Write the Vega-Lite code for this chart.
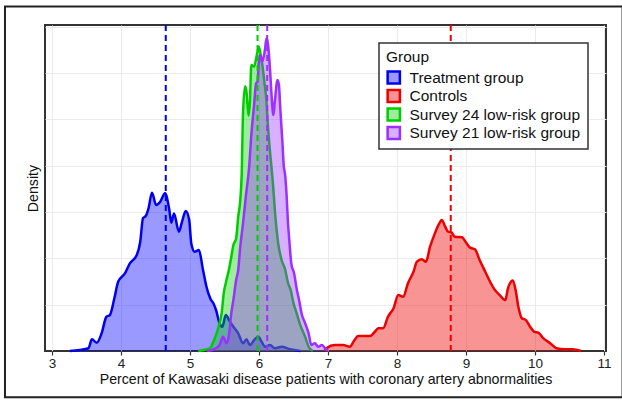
{
  "$schema": "https://vega.github.io/schema/vega-lite/v6.json",
  "width": 561,
  "height": 326,
  "autosize": {"type": "none"},
  "padding": {"left": 45, "top": 25, "right": 16, "bottom": 52},
  "background": "white",
  "config": {
    "font": "Liberation Sans",
    "view": {"stroke": "#333", "strokeWidth": 2},
    "axis": {"gridColor": "#ebebeb", "gridWidth": 1, "domain": false, "labelColor": "#222", "titleColor": "#111", "titleFontWeight": "normal", "tickColor": "#333"},
    "legend": {
      "orient": "top-right", "offset": 18, "padding": 7, "strokeColor": "#333", "strokeWidth": 1.5, "fillColor": "white",
      "titleFontSize": 15.5, "titleFontWeight": "normal", "titleColor": "#111", "titlePadding": 4,
      "labelFontSize": 15.5, "labelColor": "#111", "labelOffset": 8, "labelLimit": 300,
      "symbolType": "square", "symbolSize": 150, "symbolStrokeWidth": 2.5, "rowPadding": 1.5, "clipHeight": 16
    }
  },
  "datasets": {
    "means": [
      {"group": "Treatment group", "mean": 4.65},
      {"group": "Controls", "mean": 8.78},
      {"group": "Survey 24 low-risk group", "mean": 5.98},
      {"group": "Survey 21 low-risk group", "mean": 6.12}
    ],
    "frame": [{"x0": 2.32, "x1": 11.27, "y0": -0.25, "y1": 1.86}]
  },
  "data": {"values": [
    {"group": "Treatment group", "x": 3.26, "d": 0},
    {"group": "Treatment group", "x": 3.40, "d": 0.005},
    {"group": "Treatment group", "x": 3.53, "d": 0.015},
    {"group": "Treatment group", "x": 3.58, "d": 0.063},
    {"group": "Treatment group", "x": 3.65, "d": 0.045},
    {"group": "Treatment group", "x": 3.72, "d": 0.095},
    {"group": "Treatment group", "x": 3.79, "d": 0.185},
    {"group": "Treatment group", "x": 3.84, "d": 0.194},
    {"group": "Treatment group", "x": 3.91, "d": 0.293},
    {"group": "Treatment group", "x": 3.96, "d": 0.374},
    {"group": "Treatment group", "x": 4.06, "d": 0.42},
    {"group": "Treatment group", "x": 4.13, "d": 0.473},
    {"group": "Treatment group", "x": 4.23, "d": 0.518},
    {"group": "Treatment group", "x": 4.28, "d": 0.59},
    {"group": "Treatment group", "x": 4.32, "d": 0.717},
    {"group": "Treatment group", "x": 4.36, "d": 0.729},
    {"group": "Treatment group", "x": 4.40, "d": 0.77},
    {"group": "Treatment group", "x": 4.45, "d": 0.855},
    {"group": "Treatment group", "x": 4.51, "d": 0.788},
    {"group": "Treatment group", "x": 4.57, "d": 0.806},
    {"group": "Treatment group", "x": 4.64, "d": 0.851},
    {"group": "Treatment group", "x": 4.70, "d": 0.765},
    {"group": "Treatment group", "x": 4.73, "d": 0.693},
    {"group": "Treatment group", "x": 4.77, "d": 0.743},
    {"group": "Treatment group", "x": 4.84, "d": 0.644},
    {"group": "Treatment group", "x": 4.88, "d": 0.69},
    {"group": "Treatment group", "x": 4.94, "d": 0.756},
    {"group": "Treatment group", "x": 4.99, "d": 0.707},
    {"group": "Treatment group", "x": 5.02, "d": 0.581},
    {"group": "Treatment group", "x": 5.07, "d": 0.536},
    {"group": "Treatment group", "x": 5.13, "d": 0.545},
    {"group": "Treatment group", "x": 5.19, "d": 0.437},
    {"group": "Treatment group", "x": 5.24, "d": 0.347},
    {"group": "Treatment group", "x": 5.30, "d": 0.28},
    {"group": "Treatment group", "x": 5.34, "d": 0.258},
    {"group": "Treatment group", "x": 5.38, "d": 0.22},
    {"group": "Treatment group", "x": 5.43, "d": 0.15},
    {"group": "Treatment group", "x": 5.47, "d": 0.131},
    {"group": "Treatment group", "x": 5.52, "d": 0.194},
    {"group": "Treatment group", "x": 5.58, "d": 0.158},
    {"group": "Treatment group", "x": 5.63, "d": 0.131},
    {"group": "Treatment group", "x": 5.70, "d": 0.095},
    {"group": "Treatment group", "x": 5.77, "d": 0.042},
    {"group": "Treatment group", "x": 5.82, "d": 0.063},
    {"group": "Treatment group", "x": 5.87, "d": 0.032},
    {"group": "Treatment group", "x": 5.93, "d": 0.059},
    {"group": "Treatment group", "x": 5.99, "d": 0.077},
    {"group": "Treatment group", "x": 6.04, "d": 0.05},
    {"group": "Treatment group", "x": 6.09, "d": 0.023},
    {"group": "Treatment group", "x": 6.16, "d": 0.032},
    {"group": "Treatment group", "x": 6.23, "d": 0.015},
    {"group": "Treatment group", "x": 6.33, "d": 0.023},
    {"group": "Treatment group", "x": 6.45, "d": 0.01},
    {"group": "Treatment group", "x": 6.60, "d": 0},

    {"group": "Controls", "x": 6.95, "d": 0},
    {"group": "Controls", "x": 6.98, "d": 0.015},
    {"group": "Controls", "x": 7.10, "d": 0.032},
    {"group": "Controls", "x": 7.22, "d": 0.032},
    {"group": "Controls", "x": 7.32, "d": 0.023},
    {"group": "Controls", "x": 7.37, "d": 0.05},
    {"group": "Controls", "x": 7.44, "d": 0.081},
    {"group": "Controls", "x": 7.61, "d": 0.081},
    {"group": "Controls", "x": 7.68, "d": 0.104},
    {"group": "Controls", "x": 7.73, "d": 0.123},
    {"group": "Controls", "x": 7.80, "d": 0.123},
    {"group": "Controls", "x": 7.87, "d": 0.185},
    {"group": "Controls", "x": 7.95, "d": 0.23},
    {"group": "Controls", "x": 8.02, "d": 0.302},
    {"group": "Controls", "x": 8.09, "d": 0.293},
    {"group": "Controls", "x": 8.16, "d": 0.366},
    {"group": "Controls", "x": 8.24, "d": 0.428},
    {"group": "Controls", "x": 8.29, "d": 0.482},
    {"group": "Controls", "x": 8.36, "d": 0.495},
    {"group": "Controls", "x": 8.42, "d": 0.482},
    {"group": "Controls", "x": 8.48, "d": 0.563},
    {"group": "Controls", "x": 8.55, "d": 0.635},
    {"group": "Controls", "x": 8.61, "d": 0.686},
    {"group": "Controls", "x": 8.65, "d": 0.707},
    {"group": "Controls", "x": 8.70, "d": 0.671},
    {"group": "Controls", "x": 8.74, "d": 0.644},
    {"group": "Controls", "x": 8.79, "d": 0.64},
    {"group": "Controls", "x": 8.84, "d": 0.617},
    {"group": "Controls", "x": 8.94, "d": 0.614},
    {"group": "Controls", "x": 9.01, "d": 0.581},
    {"group": "Controls", "x": 9.06, "d": 0.558},
    {"group": "Controls", "x": 9.13, "d": 0.549},
    {"group": "Controls", "x": 9.20, "d": 0.49},
    {"group": "Controls", "x": 9.28, "d": 0.428},
    {"group": "Controls", "x": 9.35, "d": 0.374},
    {"group": "Controls", "x": 9.42, "d": 0.329},
    {"group": "Controls", "x": 9.49, "d": 0.302},
    {"group": "Controls", "x": 9.57, "d": 0.275},
    {"group": "Controls", "x": 9.61, "d": 0.339},
    {"group": "Controls", "x": 9.68, "d": 0.38},
    {"group": "Controls", "x": 9.72, "d": 0.329},
    {"group": "Controls", "x": 9.76, "d": 0.239},
    {"group": "Controls", "x": 9.81, "d": 0.177},
    {"group": "Controls", "x": 9.87, "d": 0.167},
    {"group": "Controls", "x": 9.93, "d": 0.131},
    {"group": "Controls", "x": 9.99, "d": 0.104},
    {"group": "Controls", "x": 10.05, "d": 0.099},
    {"group": "Controls", "x": 10.12, "d": 0.069},
    {"group": "Controls", "x": 10.22, "d": 0.042},
    {"group": "Controls", "x": 10.31, "d": 0.015},
    {"group": "Controls", "x": 10.43, "d": 0.009},
    {"group": "Controls", "x": 10.55, "d": 0.009},
    {"group": "Controls", "x": 10.67, "d": 0},

    {"group": "Survey 24 low-risk group", "x": 5.12, "d": 0},
    {"group": "Survey 24 low-risk group", "x": 5.20, "d": 0.005},
    {"group": "Survey 24 low-risk group", "x": 5.29, "d": 0.015},
    {"group": "Survey 24 low-risk group", "x": 5.34, "d": 0.05},
    {"group": "Survey 24 low-risk group", "x": 5.41, "d": 0.123},
    {"group": "Survey 24 low-risk group", "x": 5.46, "d": 0.204},
    {"group": "Survey 24 low-risk group", "x": 5.49, "d": 0.311},
    {"group": "Survey 24 low-risk group", "x": 5.53, "d": 0.383},
    {"group": "Survey 24 low-risk group", "x": 5.57, "d": 0.447},
    {"group": "Survey 24 low-risk group", "x": 5.60, "d": 0.509},
    {"group": "Survey 24 low-risk group", "x": 5.63, "d": 0.572},
    {"group": "Survey 24 low-risk group", "x": 5.67, "d": 0.608},
    {"group": "Survey 24 low-risk group", "x": 5.70, "d": 0.725},
    {"group": "Survey 24 low-risk group", "x": 5.73, "d": 0.815},
    {"group": "Survey 24 low-risk group", "x": 5.75, "d": 0.95},
    {"group": "Survey 24 low-risk group", "x": 5.77, "d": 1.29},
    {"group": "Survey 24 low-risk group", "x": 5.80, "d": 1.43},
    {"group": "Survey 24 low-risk group", "x": 5.82, "d": 1.40},
    {"group": "Survey 24 low-risk group", "x": 5.85, "d": 1.27},
    {"group": "Survey 24 low-risk group", "x": 5.87, "d": 1.346},
    {"group": "Survey 24 low-risk group", "x": 5.89, "d": 1.544},
    {"group": "Survey 24 low-risk group", "x": 5.93, "d": 1.535},
    {"group": "Survey 24 low-risk group", "x": 5.96, "d": 1.58},
    {"group": "Survey 24 low-risk group", "x": 5.98, "d": 1.616},
    {"group": "Survey 24 low-risk group", "x": 6.00, "d": 1.643},
    {"group": "Survey 24 low-risk group", "x": 6.03, "d": 1.589},
    {"group": "Survey 24 low-risk group", "x": 6.05, "d": 1.544},
    {"group": "Survey 24 low-risk group", "x": 6.08, "d": 1.45},
    {"group": "Survey 24 low-risk group", "x": 6.11, "d": 1.346},
    {"group": "Survey 24 low-risk group", "x": 6.13, "d": 1.22},
    {"group": "Survey 24 low-risk group", "x": 6.16, "d": 1.08},
    {"group": "Survey 24 low-risk group", "x": 6.20, "d": 0.92},
    {"group": "Survey 24 low-risk group", "x": 6.24, "d": 0.72},
    {"group": "Survey 24 low-risk group", "x": 6.28, "d": 0.58},
    {"group": "Survey 24 low-risk group", "x": 6.33, "d": 0.49},
    {"group": "Survey 24 low-risk group", "x": 6.38, "d": 0.44},
    {"group": "Survey 24 low-risk group", "x": 6.42, "d": 0.37},
    {"group": "Survey 24 low-risk group", "x": 6.46, "d": 0.33},
    {"group": "Survey 24 low-risk group", "x": 6.50, "d": 0.26},
    {"group": "Survey 24 low-risk group", "x": 6.55, "d": 0.2},
    {"group": "Survey 24 low-risk group", "x": 6.60, "d": 0.14},
    {"group": "Survey 24 low-risk group", "x": 6.67, "d": 0.077},
    {"group": "Survey 24 low-risk group", "x": 6.72, "d": 0.023},
    {"group": "Survey 24 low-risk group", "x": 6.78, "d": 0},

    {"group": "Survey 21 low-risk group", "x": 5.25, "d": 0},
    {"group": "Survey 21 low-risk group", "x": 5.35, "d": 0.01},
    {"group": "Survey 21 low-risk group", "x": 5.43, "d": 0.032},
    {"group": "Survey 21 low-risk group", "x": 5.48, "d": 0.077},
    {"group": "Survey 21 low-risk group", "x": 5.53, "d": 0.042},
    {"group": "Survey 21 low-risk group", "x": 5.57, "d": 0.095},
    {"group": "Survey 21 low-risk group", "x": 5.60, "d": 0.204},
    {"group": "Survey 21 low-risk group", "x": 5.63, "d": 0.275},
    {"group": "Survey 21 low-risk group", "x": 5.67, "d": 0.383},
    {"group": "Survey 21 low-risk group", "x": 5.70, "d": 0.437},
    {"group": "Survey 21 low-risk group", "x": 5.73, "d": 0.563},
    {"group": "Survey 21 low-risk group", "x": 5.77, "d": 0.69},
    {"group": "Survey 21 low-risk group", "x": 5.81, "d": 0.833},
    {"group": "Survey 21 low-risk group", "x": 5.86, "d": 1.0},
    {"group": "Survey 21 low-risk group", "x": 5.89, "d": 1.166},
    {"group": "Survey 21 low-risk group", "x": 5.93, "d": 1.328},
    {"group": "Survey 21 low-risk group", "x": 5.96, "d": 1.445},
    {"group": "Survey 21 low-risk group", "x": 5.98, "d": 1.454},
    {"group": "Survey 21 low-risk group", "x": 6.00, "d": 1.562},
    {"group": "Survey 21 low-risk group", "x": 6.02, "d": 1.598},
    {"group": "Survey 21 low-risk group", "x": 6.05, "d": 1.562},
    {"group": "Survey 21 low-risk group", "x": 6.09, "d": 1.634},
    {"group": "Survey 21 low-risk group", "x": 6.11, "d": 1.688},
    {"group": "Survey 21 low-risk group", "x": 6.13, "d": 1.661},
    {"group": "Survey 21 low-risk group", "x": 6.16, "d": 1.526},
    {"group": "Survey 21 low-risk group", "x": 6.18, "d": 1.40},
    {"group": "Survey 21 low-risk group", "x": 6.21, "d": 1.274},
    {"group": "Survey 21 low-risk group", "x": 6.23, "d": 1.346},
    {"group": "Survey 21 low-risk group", "x": 6.27, "d": 1.463},
    {"group": "Survey 21 low-risk group", "x": 6.29, "d": 1.436},
    {"group": "Survey 21 low-risk group", "x": 6.31, "d": 1.31},
    {"group": "Survey 21 low-risk group", "x": 6.34, "d": 1.13},
    {"group": "Survey 21 low-risk group", "x": 6.36, "d": 1.0},
    {"group": "Survey 21 low-risk group", "x": 6.38, "d": 0.95},
    {"group": "Survey 21 low-risk group", "x": 6.40, "d": 0.85},
    {"group": "Survey 21 low-risk group", "x": 6.42, "d": 0.70},
    {"group": "Survey 21 low-risk group", "x": 6.44, "d": 0.60},
    {"group": "Survey 21 low-risk group", "x": 6.47, "d": 0.47},
    {"group": "Survey 21 low-risk group", "x": 6.51, "d": 0.42},
    {"group": "Survey 21 low-risk group", "x": 6.55, "d": 0.33},
    {"group": "Survey 21 low-risk group", "x": 6.58, "d": 0.28},
    {"group": "Survey 21 low-risk group", "x": 6.62, "d": 0.2},
    {"group": "Survey 21 low-risk group", "x": 6.67, "d": 0.15},
    {"group": "Survey 21 low-risk group", "x": 6.72, "d": 0.095},
    {"group": "Survey 21 low-risk group", "x": 6.76, "d": 0.032},
    {"group": "Survey 21 low-risk group", "x": 6.81, "d": 0.042},
    {"group": "Survey 21 low-risk group", "x": 6.86, "d": 0.023},
    {"group": "Survey 21 low-risk group", "x": 6.91, "d": 0.032},
    {"group": "Survey 21 low-risk group", "x": 6.96, "d": 0.015},
    {"group": "Survey 21 low-risk group", "x": 7.00, "d": 0}
  ]},
  "layer": [
    {
      "transform": [{"filter": "datum.group === 'Treatment group'"}],
      "mark": {"type": "area", "interpolate": "monotone"},
      "encoding": {
        "x": {"field": "x", "type": "quantitative", "scale": {"domain": [2.9, 11.03], "nice": false, "zero": false},
          "title": "Percent of Kawasaki disease patients with coronary artery abnormalities",
          "axis": {"values": [3, 3.5, 4, 4.5, 5, 5.5, 6, 6.5, 7, 7.5, 8, 8.5, 9, 9.5, 10, 10.5, 11],
            "format": "d",
            "labelExpr": "datum.value % 1 === 0 ? datum.label : ''",
            "tickOpacity": {"condition": {"test": "datum.value % 1 === 0", "value": 1}, "value": 0},
            "tickSize": 4, "tickWidth": 1.2, "labelPadding": 1, "labelFontSize": 13.5, "titleFontSize": 14.2, "titlePadding": 3, "labelFlush": false, "labelOverlap": false}},
        "y": {"field": "d", "type": "quantitative", "scale": {"domain": [0, 1.76], "nice": false},
          "axis": {"values": [0.25, 0.5, 0.75, 1, 1.25, 1.5, 1.75], "labels": false, "ticks": false, "title": "Density", "titleFontSize": 14.2, "titlePadding": 5}},
        "fill": {"field": "group", "type": "nominal",
          "scale": {"domain": ["Treatment group", "Controls", "Survey 24 low-risk group", "Survey 21 low-risk group"],
                    "range": ["rgba(0,0,255,0.4)", "rgba(240,0,0,0.42)", "rgba(0,205,0,0.38)", "rgba(155,48,255,0.38)"]},
          "legend": {"title": "Group"}}
      }
    },
    {
      "transform": [{"filter": "datum.group === 'Treatment group'"}],
      "mark": {"type": "line", "interpolate": "monotone", "strokeWidth": 2.5},
      "encoding": {
        "x": {"field": "x", "type": "quantitative", "scale": {"domain": [2.9, 11.03], "nice": false, "zero": false}},
        "y": {"field": "d", "type": "quantitative", "scale": {"domain": [0, 1.76], "nice": false}},
        "stroke": {"field": "group", "type": "nominal",
          "scale": {"domain": ["Treatment group", "Controls", "Survey 24 low-risk group", "Survey 21 low-risk group"],
                    "range": ["#0000f0", "#ee0000", "#00cd00", "#9b30ff"]},
          "legend": {"title": "Group"}}
      }
    },
    {
      "transform": [{"filter": "datum.group === 'Controls'"}],
      "mark": {"type": "area", "interpolate": "monotone"},
      "encoding": {
        "x": {"field": "x", "type": "quantitative", "scale": {"domain": [2.9, 11.03], "nice": false, "zero": false}},
        "y": {"field": "d", "type": "quantitative", "scale": {"domain": [0, 1.76], "nice": false}},
        "fill": {"field": "group", "type": "nominal", "legend": {"title": "Group"}}
      }
    },
    {
      "transform": [{"filter": "datum.group === 'Controls'"}],
      "mark": {"type": "line", "interpolate": "monotone", "strokeWidth": 2.5},
      "encoding": {
        "x": {"field": "x", "type": "quantitative", "scale": {"domain": [2.9, 11.03], "nice": false, "zero": false}},
        "y": {"field": "d", "type": "quantitative", "scale": {"domain": [0, 1.76], "nice": false}},
        "stroke": {"field": "group", "type": "nominal", "legend": {"title": "Group"}}
      }
    },
    {
      "transform": [{"filter": "datum.group === 'Survey 24 low-risk group'"}],
      "mark": {"type": "area", "interpolate": "monotone"},
      "encoding": {
        "x": {"field": "x", "type": "quantitative", "scale": {"domain": [2.9, 11.03], "nice": false, "zero": false}},
        "y": {"field": "d", "type": "quantitative", "scale": {"domain": [0, 1.76], "nice": false}},
        "fill": {"field": "group", "type": "nominal", "legend": {"title": "Group"}}
      }
    },
    {
      "transform": [{"filter": "datum.group === 'Survey 24 low-risk group'"}],
      "mark": {"type": "line", "interpolate": "monotone", "strokeWidth": 2.5},
      "encoding": {
        "x": {"field": "x", "type": "quantitative", "scale": {"domain": [2.9, 11.03], "nice": false, "zero": false}},
        "y": {"field": "d", "type": "quantitative", "scale": {"domain": [0, 1.76], "nice": false}},
        "stroke": {"field": "group", "type": "nominal", "legend": {"title": "Group"}}
      }
    },
    {
      "transform": [{"filter": "datum.group === 'Survey 21 low-risk group'"}],
      "mark": {"type": "area", "interpolate": "monotone"},
      "encoding": {
        "x": {"field": "x", "type": "quantitative", "scale": {"domain": [2.9, 11.03], "nice": false, "zero": false}},
        "y": {"field": "d", "type": "quantitative", "scale": {"domain": [0, 1.76], "nice": false}},
        "fill": {"field": "group", "type": "nominal", "legend": {"title": "Group"}}
      }
    },
    {
      "transform": [{"filter": "datum.group === 'Survey 21 low-risk group'"}],
      "mark": {"type": "line", "interpolate": "monotone", "strokeWidth": 2.5},
      "encoding": {
        "x": {"field": "x", "type": "quantitative", "scale": {"domain": [2.9, 11.03], "nice": false, "zero": false}},
        "y": {"field": "d", "type": "quantitative", "scale": {"domain": [0, 1.76], "nice": false}},
        "stroke": {"field": "group", "type": "nominal", "legend": {"title": "Group"}}
      }
    },
    {
      "data": {"name": "means"},
      "mark": {"type": "rule", "strokeWidth": 2, "strokeDash": [6, 4]},
      "encoding": {
        "x": {"field": "mean", "type": "quantitative", "scale": {"domain": [2.9, 11.03], "nice": false, "zero": false}},
        "stroke": {"field": "group", "type": "nominal", "legend": {"title": "Group"}}
      }
    },
    {
      "data": {"name": "frame"},
      "mark": {"type": "rect", "fill": null, "stroke": "#222", "strokeWidth": 2, "clip": false},
      "encoding": {
        "x": {"field": "x0", "type": "quantitative", "scale": {"domain": [2.9, 11.03], "nice": false, "zero": false}},
        "x2": {"field": "x1"},
        "y": {"field": "y0", "type": "quantitative", "scale": {"domain": [0, 1.76], "nice": false}},
        "y2": {"field": "y1"}
      }
    }
  ]
}
